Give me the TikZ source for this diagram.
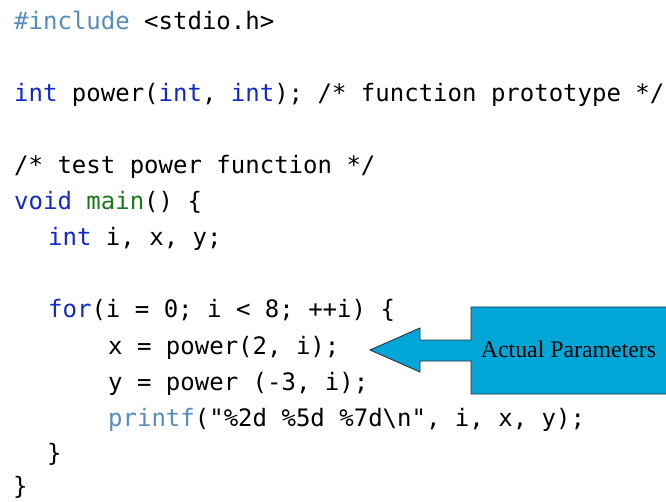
\documentclass[tikz,border=0pt]{standalone}
\usepackage{fontspec}
\setmainfont{Liberation Serif}
\setmonofont{DejaVu Sans Mono}
\definecolor{incl}{RGB}{88,140,185}
\definecolor{kw}{RGB}{20,40,200}
\definecolor{fn}{RGB}{25,120,25}
\definecolor{callfill}{RGB}{0,166,214}
\definecolor{calledge}{RGB}{40,50,60}
\tikzset{
  code/.style={anchor=base west, inner sep=0pt, font=\ttfamily\fontsize{24}{28}\selectfont, text=black},
  calltext/.style={inner sep=0pt, font=\rmfamily\fontsize{23.8}{28}\selectfont, text=black},
  callshape/.style={fill=callfill, draw=calledge, line width=0.9pt, line join=miter}
}
\begin{document}
\begin{tikzpicture}[x=1pt,y=-1pt]
\useasboundingbox (0,0) rectangle (666,502);
\node[code] (l1) at (14,30) {\textcolor{incl}{\#include} <stdio.h>};
\node[code] (l3) at (14,102) {\textcolor{kw}{int} power(\textcolor{kw}{int}, \textcolor{kw}{int}); /* function prototype */};
\node[code] (l5) at (14,174) {/* test power function */};
\node[code] (l6) at (14,210) {\textcolor{kw}{void} \textcolor{fn}{main}() \{};
\node[code] (l7) at (48,246) {\textcolor{kw}{int} i, x, y;};
\node[code] (l9) at (48,318) {\textcolor{kw}{for}(i = 0; i < 8; ++i) \{};
\node[code] (l10) at (108,354) {x = power(2, i);};
\node[code] (l11) at (108,390) {y = power (-3, i);};
\node[code] (l12) at (108,426) {\textcolor{incl}{printf}("\%2d \%5d \%7d\textbackslash n", i, x, y);};
\node[code] (l13) at (47,461) {\}};
\node[code] (l14) at (13,494) {\}};
% callout
\coordinate (tip) at (370,350);
\draw[callshape] (668,307) -- (471,307) -- (471,340) -- (420,340) -- (420,328) -- (tip)
  -- (420,372) -- (420,361) -- (471,361) -- (471,394) -- (668,394);
\node[calltext, anchor=base] (lab) at (568.5,357) {Actual Parameters};
\end{tikzpicture}
\end{document}
